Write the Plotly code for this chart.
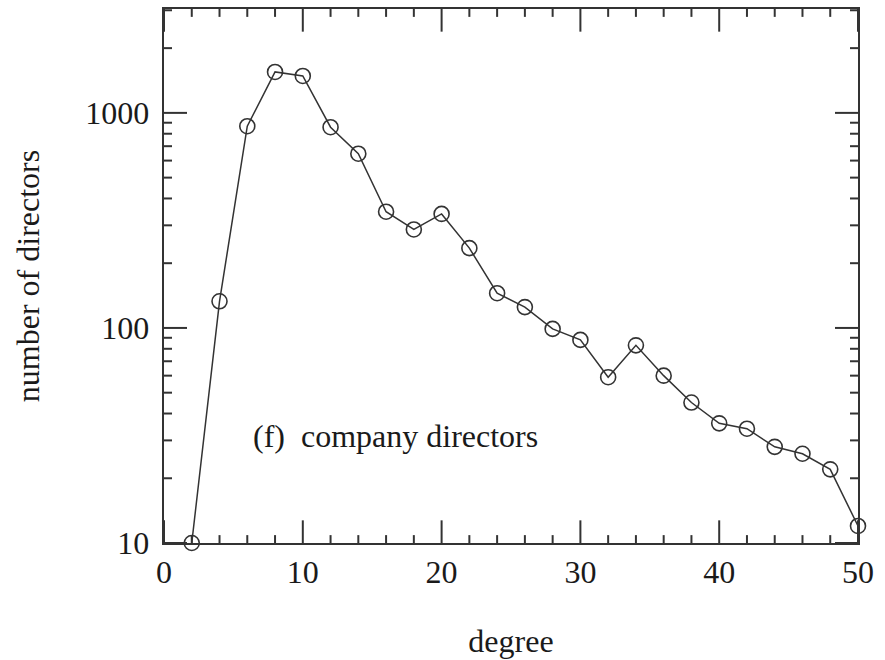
import math
import plotly.graph_objects as go

degree = [2, 4, 6, 8, 10, 12, 14, 16, 18, 20, 22, 24, 26, 28, 30, 32, 34, 36, 38, 40, 42, 44, 46, 48, 50]
directors = [10, 133, 867, 1550, 1485, 858, 646, 347, 287, 339, 235, 145, 125, 99, 88, 59, 83, 60, 45, 36, 34, 28, 26, 22, 12]

x_ticks = [0, 10, 20, 30, 40, 50]
x_minor = [2, 4, 6, 8, 12, 14, 16, 18, 22, 24, 26, 28, 32, 34, 36, 38, 42, 44, 46, 48]
y_ticks = [10, 100, 1000]
y_minor = [20, 30, 40, 50, 60, 70, 80, 90, 200, 300, 400, 500, 600, 700, 800, 900, 2000, 3000]

INK = "#333333"
TXT = "#1a1a1a"
FONT = "Liberation Serif, Times New Roman, serif"

W, H = 885, 660
ML, MR, MT, MB = 164, 27, 7, 111
X_RANGE = [0, 50]
Y_RANGE = [1, 3.483]          # log10 of axis limits
MAJOR_LEN, MINOR_LEN = 23, 8  # tick lengths in pixels

x_per_px = (X_RANGE[1] - X_RANGE[0]) / (W - ML - MR)
ylog_per_px = (Y_RANGE[1] - Y_RANGE[0]) / (H - MT - MB)


def tick_path(xs, ys, length):
    """Inside ticks on all four sides for the given tick values."""
    px, py = [], []
    dx = length * x_per_px
    dy = length * ylog_per_px
    for v in xs:
        px += [v, v, None, v, v, None]
        py += [10 ** Y_RANGE[0], 10 ** (Y_RANGE[0] + dy), None,
               10 ** Y_RANGE[1], 10 ** (Y_RANGE[1] - dy), None]
    for v in ys:
        px += [X_RANGE[0], X_RANGE[0] + dx, None, X_RANGE[1], X_RANGE[1] - dx, None]
        py += [v, v, None, v, v, None]
    return px, py


fig = go.Figure()
for xs, ys, length in ((x_ticks, y_ticks, MAJOR_LEN), (x_minor, y_minor, MINOR_LEN)):
    tx, ty = tick_path(xs, ys, length)
    fig.add_trace(go.Scatter(x=tx, y=ty, mode="lines", line=dict(color=INK, width=2),
                             hoverinfo="skip", showlegend=False, cliponaxis=False))

fig.add_trace(go.Scatter(
    x=degree, y=directors, mode="lines+markers",
    line=dict(color=INK, width=1.5),
    marker=dict(symbol="circle-open", size=15, color=INK, line=dict(width=1.6, color=INK)),
    cliponaxis=False, showlegend=False,
))

axis_base = dict(ticks="", showline=True, linecolor=INK, linewidth=2, mirror=True,
                 showgrid=False, zeroline=False,
                 tickfont=dict(family=FONT, size=32, color=TXT))

fig.update_layout(
    width=W, height=H,
    margin=dict(l=ML, r=MR, t=MT, b=MB),
    paper_bgcolor="white", plot_bgcolor="white",
    xaxis=dict(
        range=X_RANGE, tickvals=x_ticks,
        title=dict(text="degree", font=dict(family=FONT, size=32, color=TXT), standoff=40),
        **axis_base,
    ),
    yaxis=dict(
        type="log", range=Y_RANGE, tickvals=y_ticks,
        ticktext=[str(v) + "\u2009" for v in y_ticks],
        title=dict(text="number of directors", font=dict(family=FONT, size=32, color=TXT), standoff=36),
        **axis_base,
    ),
)

fig.add_annotation(
    x=16.7, y=math.log10(31.4), xref="x", yref="y", text="(f)  company directors",
    showarrow=False, font=dict(family=FONT, size=32, color=TXT),
)

fig.write_html("out.html")
